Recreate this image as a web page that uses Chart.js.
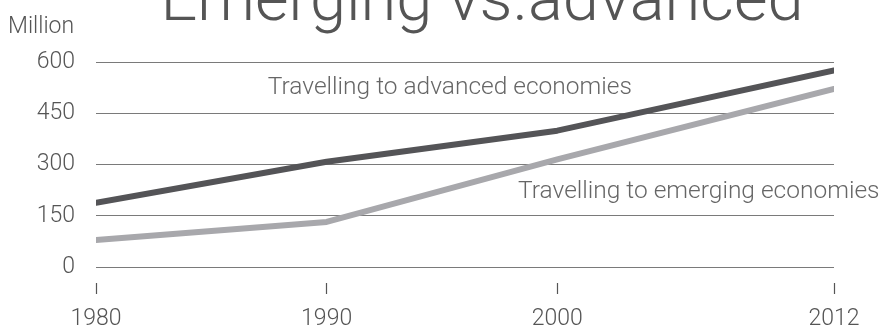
<!DOCTYPE html>
<html>
<head>
<meta charset="utf-8">
<script src="https://cdn.jsdelivr.net/npm/chart.js@4/dist/chart.umd.min.js"></script>
<style>
  html, body { margin: 0; padding: 0; background: #fff; overflow: hidden; }
  #wrap { width: 881px; height: 331px; }
</style>
</head>
<body>
<div id="wrap"><canvas id="chart"></canvas></div>
<script>
// Datos
const years = [1980, 1990, 2000, 2012];
const xTicks = [1980, 1990, 2000, 2012];
const advanced = [188, 308, 399, 575];
const emerging = [79, 132, 315, 521];
const yTicks = [0, 150, 300, 450, 600];

const titleText = 'Emerging vs.advanced';
const unitText = 'Million';
const advancedLabel = 'Travelling to advanced economies';
const emergingLabel = 'Travelling to emerging economies';
// label anchors in data units (year, million)
const advancedLabelAt = [1987.45, 524];
const emergingLabelAt = [1998.3, 220];

const FONT = 'Roboto, "Liberation Sans", sans-serif';

const textPlugin = {
  id: 'textPlugin',
  afterDatasetsDraw(chart) {
    const ctx = chart.ctx;
    const x = chart.scales.x, y = chart.scales.y;
    ctx.save();
    ctx.textAlign = 'left';
    ctx.textBaseline = 'middle';
    ctx.fillStyle = '#666';
    ctx.font = '300 24.5px ' + FONT;
    ctx.fillText(advancedLabel, x.getPixelForValue(advancedLabelAt[0]), y.getPixelForValue(advancedLabelAt[1]));
    ctx.fillText(emergingLabel, x.getPixelForValue(emergingLabelAt[0]), y.getPixelForValue(emergingLabelAt[1]));

    ctx.textBaseline = 'alphabetic';
    ctx.font = '300 23px ' + FONT;
    ctx.fillStyle = '#555';
    ctx.fillText(unitText, 8, 33);

    ctx.textAlign = 'center';
    ctx.font = '300 65px ' + FONT;
    ctx.fillStyle = '#555';
    ctx.fillText(titleText, 482, 20);
    ctx.restore();
  }
};

const lineStyle = {
  borderWidth: 6,
  borderCapStyle: 'round',
  borderJoinStyle: 'round',
  pointRadius: 0,
  pointHoverRadius: 0,
  tension: 0,
  fill: false
};

new Chart(document.getElementById('chart'), {
  type: 'line',
  data: {
    datasets: [
      Object.assign({ label: emergingLabel, data: years.map((yr, i) => ({ x: yr, y: emerging[i] })), borderColor: '#a8a8ac' }, lineStyle),
      Object.assign({ label: advancedLabel, data: years.map((yr, i) => ({ x: yr, y: advanced[i] })), borderColor: '#545457' }, lineStyle)
    ]
  },
  options: {
    responsive: true,
    maintainAspectRatio: false,
    animation: false,
    layout: { padding: { top: 62, right: 47, left: 0, bottom: 0 } },
    plugins: {
      legend: { display: false },
      tooltip: { enabled: false },
      title: { display: false }
    },
    scales: {
      x: {
        type: 'linear',
        min: 1980,
        max: 2012,
        afterBuildTicks: axis => { axis.ticks = xTicks.map(v => ({ value: v })); },
        afterFit: axis => { axis.height = 64; },
        border: { display: false },
        grid: {
          drawOnChartArea: false,
          drawTicks: true,
          tickLength: 27,
          tickBorderDash: [0, 16, 11, 0],
          tickColor: '#555',
          tickWidth: 1.2
        },
        ticks: {
          color: '#555',
          font: { family: FONT, size: 23, weight: '300' },
          padding: 11,
          maxRotation: 0,
          autoSkip: false,
          callback: v => String(v)
        }
      },
      y: {
        min: 0,
        max: 600,
        afterBuildTicks: axis => { axis.ticks = yTicks.map(v => ({ value: v })); },
        afterFit: axis => { axis.width = 96; },
        border: { display: false },
        grid: { color: '#7a7a7a', lineWidth: 1, drawTicks: false },
        ticks: {
          color: '#555',
          font: { family: FONT, size: 23, weight: '300' },
          padding: 21
        }
      }
    }
  },
  plugins: [textPlugin]
});
</script>
</body>
</html>
